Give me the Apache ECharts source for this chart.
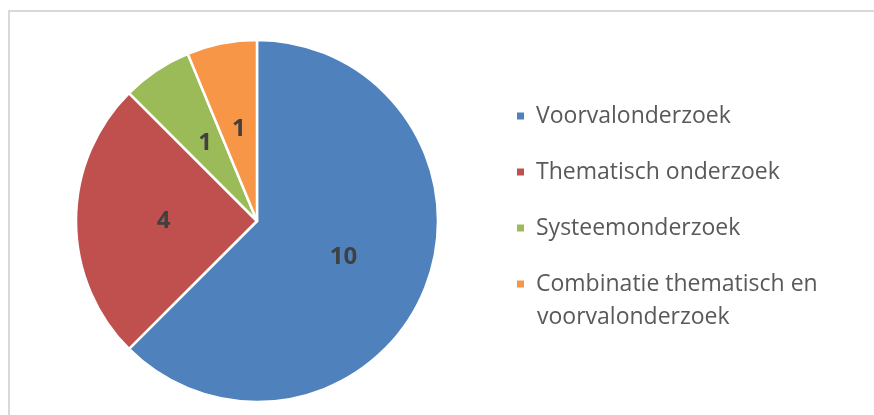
<!DOCTYPE html>
<html>
<head>
<meta charset="utf-8">
<script src="https://cdn.jsdelivr.net/npm/echarts@6/dist/echarts.min.js"></script>
<style>
html,body{margin:0;padding:0;background:#fff;}
#frame{position:absolute;left:8px;top:10px;width:880px;height:420px;border:2px solid #d9d9d9;box-sizing:border-box;}
#chart{position:absolute;left:0;top:0;width:874px;height:415px;}
</style>
</head>
<body>
<div id="frame"></div>
<div id="chart"></div>
<script>
const categories = ["Voorvalonderzoek", "Thematisch onderzoek", "Systeemonderzoek", "Combinatie thematisch en voorvalonderzoek"];
const values = [10, 4, 1, 1];
const colors = ["#4F81BD", "#C0504D", "#9BBB59", "#F79646"];
// legend text wrapping of the last category: first line in the legend, continuation below it
const legendFirstLine = {"Combinatie thematisch en voorvalonderzoek": "Combinatie thematisch en"};
const legendContinuation = "voorvalonderzoek";

const chart = echarts.init(document.getElementById('chart'), null, {renderer: 'canvas'});
chart.setOption({
  animation: false,
  color: colors,
  legend: {
    orient: 'vertical',
    left: 515,
    top: 100,
    padding: 0,
    itemWidth: 9,
    itemHeight: 9,
    itemGap: 24,
    icon: 'rect',
    data: categories,
    formatter: function (name) {
      return legendFirstLine[name] || name;
    },
    textStyle: {
      fontFamily: 'Open Sans',
      fontSize: 23,
      color: '#595959',
      lineHeight: 32,
      padding: [0, 0, 0, 6]
    },
    selectedMode: false
  },
  graphic: [{
    type: 'text',
    left: 537,
    top: 301,
    style: {
      text: legendContinuation,
      fontFamily: 'Open Sans',
      fontSize: 23,
      fill: '#595959',
      lineHeight: 32
    }
  }],
  series: [{
    type: 'pie',
    center: [257, 221],
    radius: [0, 181],
    startAngle: 90,
    clockwise: true,
    data: categories.map((c, i) => ({name: c, value: values[i]})),
    itemStyle: {borderColor: '#ffffff', borderWidth: 2.5},
    label: {
      show: true,
      position: 'inside',
      formatter: '{c}',
      fontFamily: 'Open Sans',
      fontWeight: 'bold',
      fontSize: 24,
      color: '#404040'
    },
    labelLine: {show: false},
    emphasis: {disabled: true}
  }]
});
</script>
</body>
</html>
